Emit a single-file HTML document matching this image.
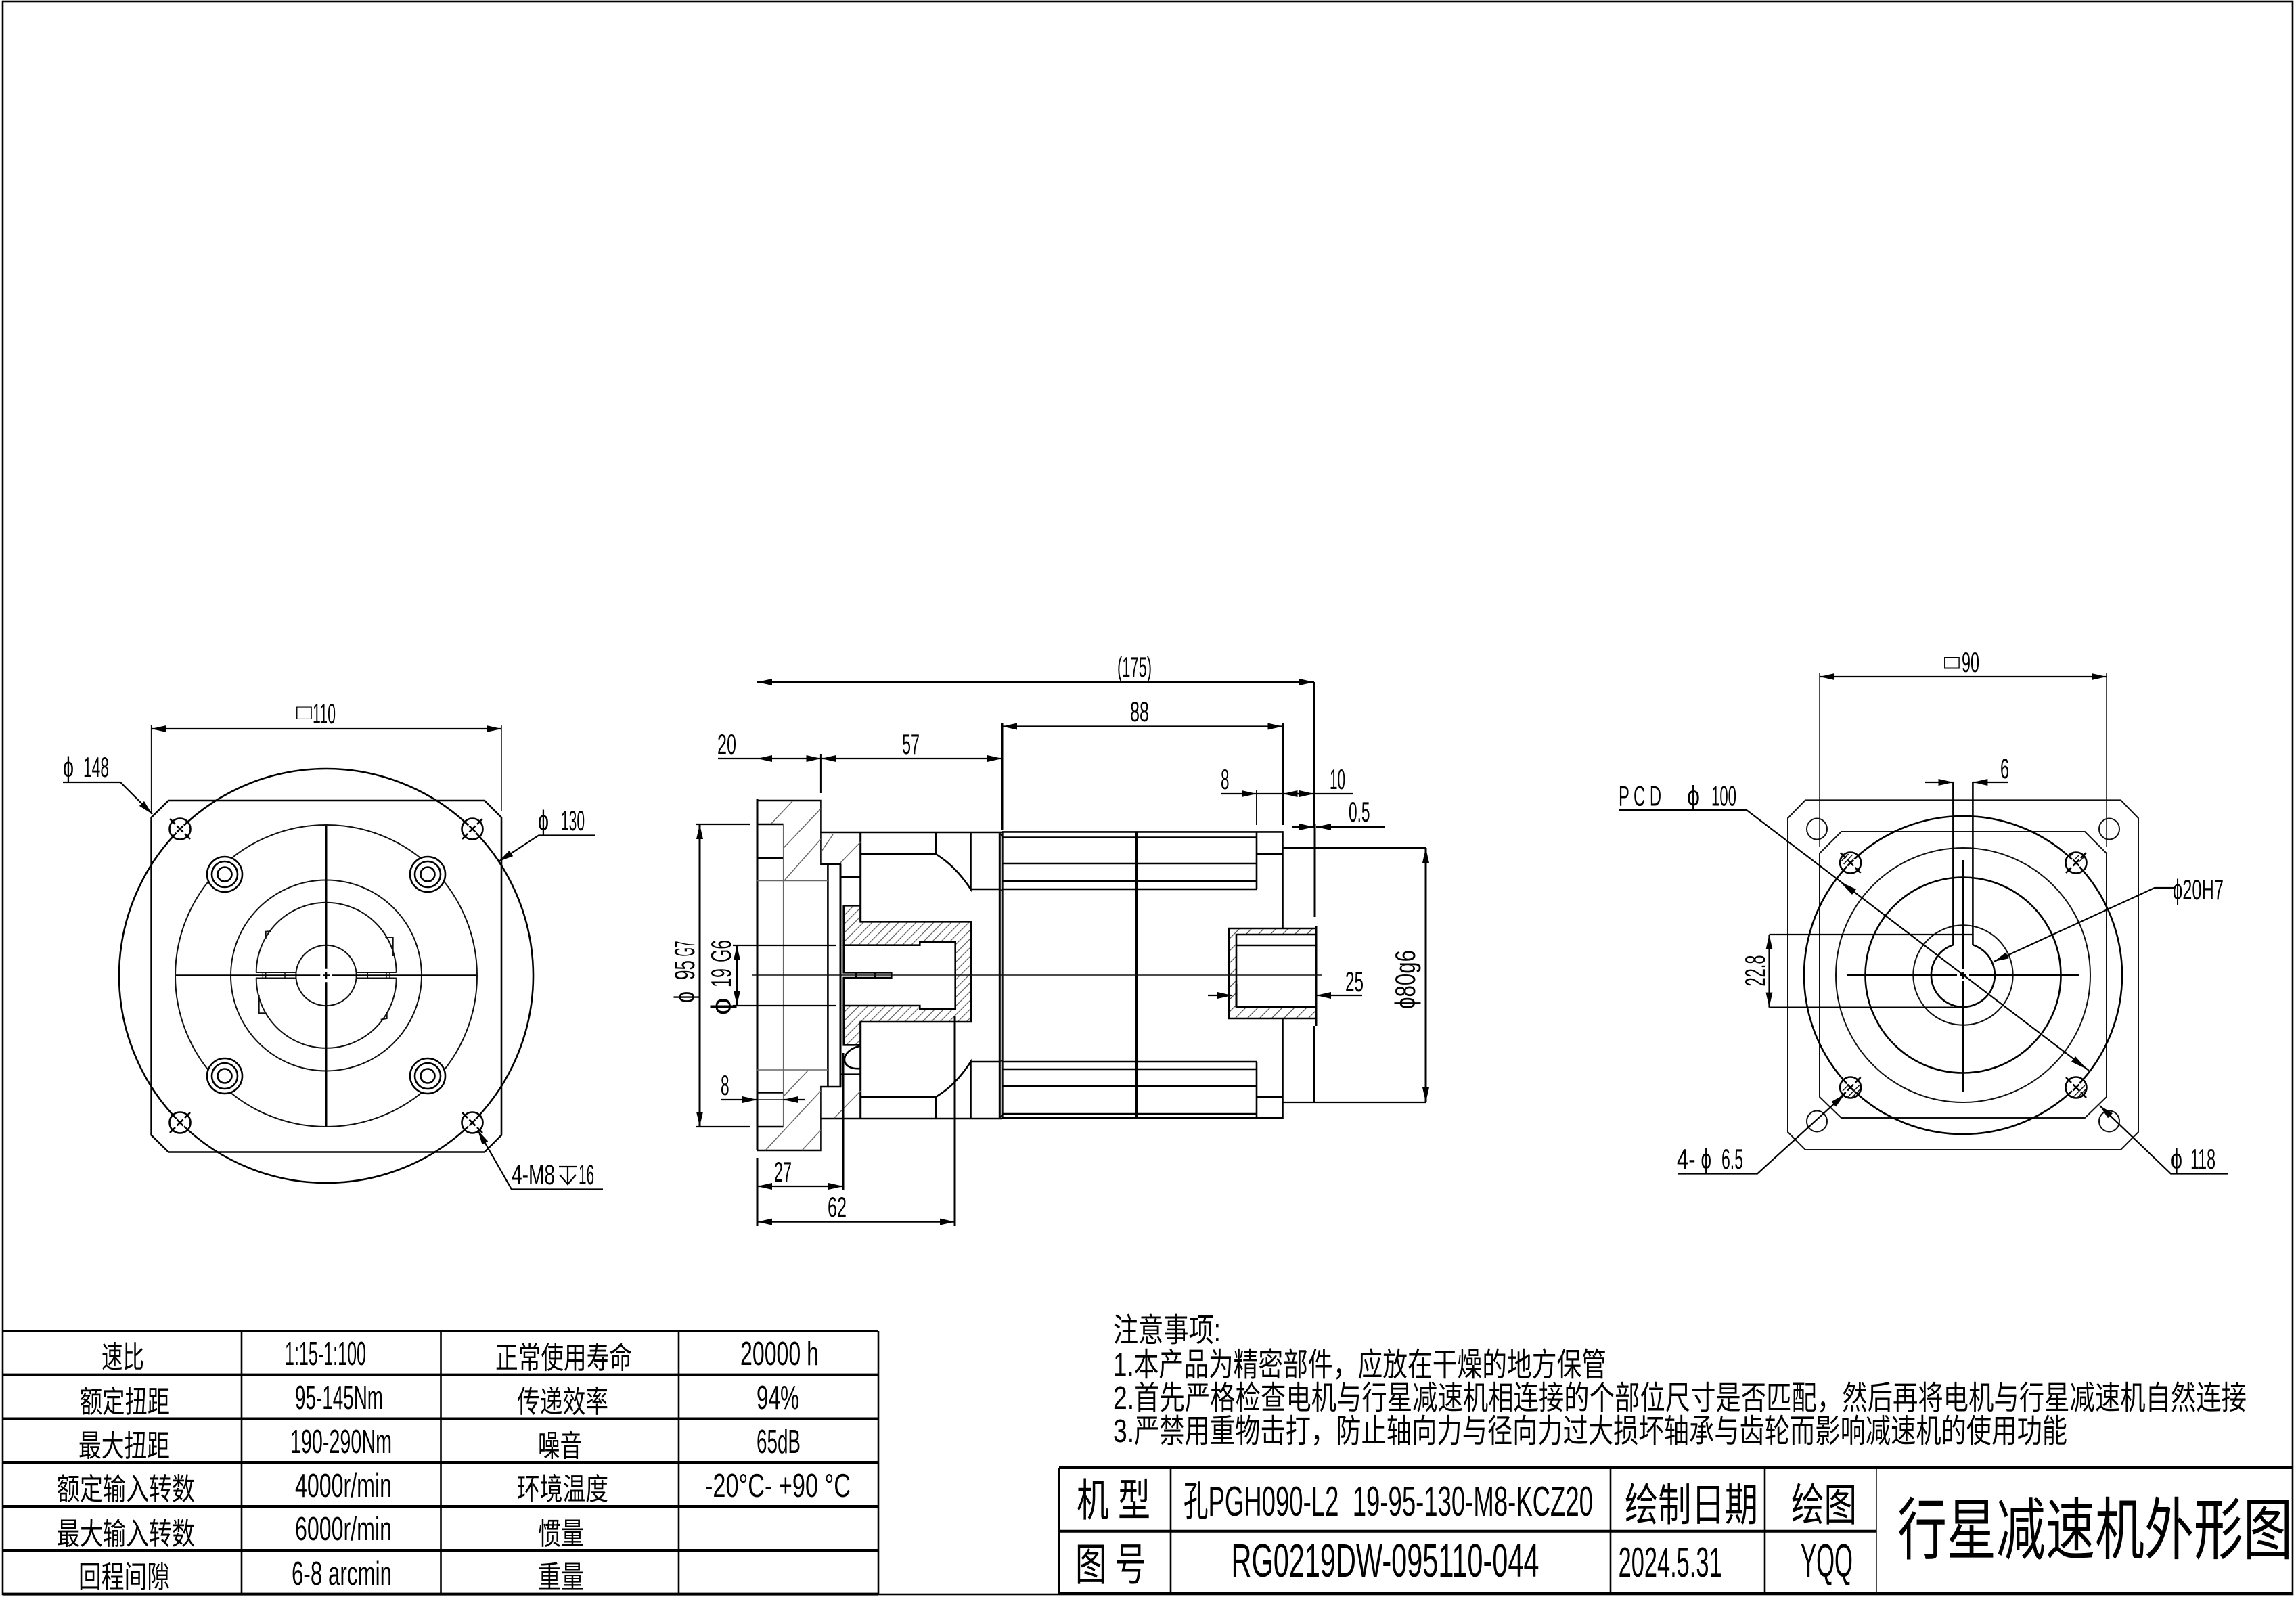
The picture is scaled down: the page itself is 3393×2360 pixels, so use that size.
<!DOCTYPE html>
<html><head><meta charset="utf-8"><style>
html,body{margin:0;padding:0;background:#fff}
svg{display:block}
text{fill:#000;font-family:"Liberation Sans","Noto Sans CJK SC",sans-serif;font-weight:400}
.m{stroke:#000;stroke-width:2.6;fill:none}
.t{stroke:#111;stroke-width:2;fill:none}
.f{stroke:#111;stroke-width:1.5;fill:none}
.g{stroke:#666;stroke-width:1.4;fill:none}
.k{stroke:#000;stroke-width:4;fill:none}
.j{stroke:#000;stroke-width:3;fill:none}
.d{stroke:#000;stroke-width:2.2;fill:none}
.e{stroke:#000;stroke-width:3;fill:none}
.a{marker-end:url(#ar)}
.b{marker-start:url(#ar);marker-end:url(#ar)}
.l{font-size:42px}.c{font-size:45px}.n{font-size:49px}
</style></head><body>
<svg width="3393" height="2360" viewBox="0 0 3393 2360" xmlns="http://www.w3.org/2000/svg">
<defs>
<marker id="ar" viewBox="0 0 22 10" refX="22" refY="5" markerWidth="22" markerHeight="10" markerUnits="userSpaceOnUse" orient="auto-start-reverse"><path d="M0 0L22 5L0 10z" fill="#000"/></marker>
<pattern id="h" patternUnits="userSpaceOnUse" width="13" height="13"><path d="M-1 1L1 -1M0 13L13 0M12 14L14 12" stroke="#666" stroke-width="1.3"/></pattern>
<pattern id="h2" patternUnits="userSpaceOnUse" width="18" height="18"><path d="M-1 1L1 -1M0 18L18 0M17 19L19 17" stroke="#555" stroke-width="1.3"/></pattern>
<g id="hole"><circle r="15.5" class="m"/><circle r="8" fill="#fff"/><path d="M-4.5 -4.5L4.5 4.5M-4.5 4.5L4.5 -4.5" class="m"/><path d="M-15 -15L-7 -7M7 7L15 15" class="m"/></g>
<g id="bolt"><circle r="26" style="fill:#fff" class="m"/><circle r="19" class="m"/><circle r="10.5" class="m"/></g>
</defs>
<rect width="3393" height="2360" fill="#fff"/>
<rect x="4" y="2" width="3384" height="2354" class="m"/>

<!-- LEFT VIEW -->
<path class="m" d="M249 1183H716L741 1208V1677.5L716 1702.5H249L223.6 1677.5V1208Z"/>
<circle cx="482" cy="1442" r="306" class="m"/>
<circle cx="482" cy="1442" r="223" class="t"/>
<circle cx="482" cy="1441.5" r="141" class="t"/>
<path class="t" d="M378.7 1437.3A103.5 103.5 0 0 1 585.7 1437.3M378.7 1445.3A103.5 103.5 0 0 0 585.7 1445.3"/>
<circle cx="482" cy="1441.5" r="44.7" class="t"/>
<path class="f" d="M378.7 1437.3H437.7M527 1437.3H585.7M378.7 1445.3H437.7M527 1445.3H585.7M388.3 1437V1446M392.7 1437V1446M421 1437V1446M543.3 1437V1446M571 1437V1446M576 1437V1446"/>
<path class="t" d="M392.7 1388V1376.7L401 1376M569.3 1385H580.7V1413M382.7 1470V1497.3H393.3M571.7 1495V1505L562.7 1506.7"/>
<path class="j" d="M482 1221V1431.7M482 1451.3V1665"/>
<path class="m" d="M260 1441.5H473.3M490.7 1441.5H704M477 1441.5H487M482 1436.5V1446.5"/>
<use href="#bolt" x="332" y="1292"/><use href="#bolt" x="632" y="1292"/><use href="#bolt" x="332" y="1590"/><use href="#bolt" x="632" y="1590"/>
<use href="#hole" transform="translate(266 1225)"/>
<use href="#hole" transform="translate(698 1225) rotate(90)"/>
<use href="#hole" transform="translate(266 1659) rotate(90)"/>
<use href="#hole" transform="translate(698 1659)"/>
<path class="f" d="M223.6 1072V1203M741 1072V1198"/>
<path class="d b" d="M223.6 1077H741"/>
<text x="438" y="1063" font-size="31" textLength="23" lengthAdjust="spacingAndGlyphs">□</text>
<text class="l" x="462" y="1069" textLength="34" lengthAdjust="spacingAndGlyphs">110</text>
<path class="d a" d="M93 1156H178L225 1203"/>
<text class="l" x="93" y="1148" textLength="16" lengthAdjust="spacingAndGlyphs">ϕ</text>
<text class="l" x="123" y="1148" textLength="38" lengthAdjust="spacingAndGlyphs">148</text>
<path class="d a" d="M880 1234.5H796L737 1273"/>
<text class="l" x="795" y="1227" textLength="16" lengthAdjust="spacingAndGlyphs">ϕ</text>
<text class="l" x="829" y="1227" textLength="35" lengthAdjust="spacingAndGlyphs">130</text>
<path class="d a" d="M891 1757.5H756L706 1670"/>
<text class="l" x="756" y="1750" textLength="64" lengthAdjust="spacingAndGlyphs">4-M8</text>
<path class="d" d="M826 1724H852M839 1724V1750M827 1736L839 1750L851 1736"/>
<text class="l" x="855" y="1750" textLength="23" lengthAdjust="spacingAndGlyphs">16</text>

<!-- MIDDLE VIEW -->
<path d="M1246.7 1338.3H1271.7V1362.3H1435V1510H1271.7V1544.3H1246.7V1486H1359.3V1491H1411.7V1392.3H1359.3V1396.7H1246.7Z" style="fill:url(#h)" class="m"/>
<path class="m" d="M1119 1183H1213.4V1277H1223.4V1606H1213.4V1700H1119"/>
<path class="j" d="M1119 1181V1700"/>
<path class="m" d="M1119 1218H1157.6M1119 1665H1157.6M1119 1268H1157.6M1119 1614.5H1157.6"/>
<path class="g" d="M1157.6 1218V1665M1119 1301.6H1223M1119 1581H1223"/>
<path class="m" d="M1213.4 1230H1481M1213.4 1653H1481M1223.4 1277H1242V1606H1223.4"/>
<path class="j" d="M1242 1277V1606M1271.7 1230V1362.3M1271.7 1510V1653"/>
<path class="m" d="M1242.7 1296H1271.7M1242.7 1587.7H1271.7M1246.7 1396.7V1437.3H1317.3V1445H1246.7V1486M1265.3 1437.3V1445M1293.3 1437.3V1445"/>
<path class="m" d="M1271.7 1262.3H1383.3V1230M1383.3 1262.3Q1412 1280 1434.5 1314V1230M1434.5 1314H1478M1271.7 1620.7H1383.3V1653M1383.3 1620.7Q1412 1604 1434.5 1569V1653M1434.5 1569H1478"/>
<path class="m" d="M1271.7 1545.7C1240 1552 1240 1582 1271.7 1579"/>
<path class="g" d="M1139 1218L1171 1184M1158 1253L1213 1195M1160 1300L1213 1240M1214 1258L1231 1233M1242 1275L1272 1244M1158 1620L1194 1582M1131 1700L1213 1612M1185 1700L1213 1670M1233 1652L1272 1612"/>
<path class="j" d="M1477.3 1230V1653"/>
<path class="t" d="M1481.7 1229.4V1652M1477 1230L1481.7 1236M1477 1653L1481.7 1647M1477 1314L1481.7 1316M1477 1569L1481.7 1567"/>
<path class="m" d="M1481 1229.4H1895.5V1372M1895.5 1505V1652H1481M1481 1237.5H1857M1481 1276H1857M1481 1302H1857M1481 1314H1857M1857 1229.4V1314M1857 1262H1895.5M1481 1569H1857M1481 1580H1857M1481 1605H1857M1481 1646H1857M1857 1569V1652M1857 1621H1895.5"/>
<path class="k" d="M1679 1229V1652"/>
<path d="M1816 1372H1945V1505H1816ZM1827 1381V1488H1945V1381Z" style="fill:url(#h2);fill-rule:evenodd" class="m"/>
<path class="m" d="M1827 1397H1945"/>
<path class="j" d="M1827 1454V1488M1945 1368V1516"/>
<path class="f" d="M1111 1441H1953"/>
<path class="m" d="M1942 1008V1222M1942 1516V1629"/>
<path class="e" d="M1943 1217V1355"/>
<path class="d" d="M1895.5 1253H2107M1895.5 1629H2107"/>
<path class="e b" d="M2107 1253V1629"/>
<text class="l" transform="rotate(-90 2091 1491)" x="2091" y="1491" textLength="87" lengthAdjust="spacingAndGlyphs">ϕ80g6</text>
<path class="d b" d="M1119 1008H1942"/>
<text class="l" x="1651" y="1000" textLength="51" lengthAdjust="spacingAndGlyphs">(175)</text>
<path class="j" d="M1481 1068V1226M1895.5 1068V1219M1213.4 1114V1172"/>
<path class="d b" d="M1481 1073.5H1895.5"/>
<text class="l" x="1670" y="1066" textLength="28" lengthAdjust="spacingAndGlyphs">88</text>
<path class="d" d="M1061 1121H1119"/>
<path class="d b" d="M1119 1121H1213.4"/>
<path class="d b" d="M1213.4 1121H1481"/>
<text class="l" x="1060" y="1114" textLength="28" lengthAdjust="spacingAndGlyphs">20</text>
<text class="l" x="1333" y="1114" textLength="26" lengthAdjust="spacingAndGlyphs">57</text>
<path class="d a" d="M1804 1173H1857"/>
<path class="t" d="M1857 1167V1219"/>
<path class="d" d="M1857 1173H1895.5"/>
<path class="d a" d="M1925 1173H1895.5"/>
<path class="d a" d="M1915 1173H1942"/>
<path class="d" d="M1942 1173H2000"/>
<text class="l" x="1804" y="1166" textLength="12.5" lengthAdjust="spacingAndGlyphs">8</text>
<text class="l" x="1965" y="1166" textLength="23" lengthAdjust="spacingAndGlyphs">10</text>
<path class="d a" d="M1909 1222H1942"/>
<path class="d a" d="M2046 1222H1945"/>
<text class="l" x="1993" y="1214" textLength="31.5" lengthAdjust="spacingAndGlyphs">0.5</text>
<path class="d a" d="M1785 1471H1821"/>
<path class="d a" d="M2013 1471H1945"/>
<text class="l" x="1988" y="1465" textLength="27" lengthAdjust="spacingAndGlyphs">25</text>
<path class="d" d="M1028 1218H1108M1028 1665H1108"/>
<path class="e b" d="M1034 1218V1665"/>
<text class="l" transform="rotate(-90 1026 1482)" x="1026" y="1482" textLength="17" lengthAdjust="spacingAndGlyphs">ϕ</text>
<text class="l" transform="rotate(-90 1026 1448)" x="1026" y="1448" textLength="29" lengthAdjust="spacingAndGlyphs">95</text>
<text class="l" transform="rotate(-90 1026 1413.5)" x="1026" y="1413.5" textLength="23" lengthAdjust="spacingAndGlyphs">G7</text>
<path class="d" d="M1083 1397H1235M1083 1486H1235"/>
<path class="e b" d="M1089 1397V1486"/>
<text class="l" transform="rotate(-90 1080 1500)" x="1080" y="1500" textLength="25.6" lengthAdjust="spacingAndGlyphs">ϕ</text>
<text class="l" transform="rotate(-90 1080 1459)" x="1080" y="1459" textLength="28" lengthAdjust="spacingAndGlyphs">19</text>
<text class="l" transform="rotate(-90 1080 1422)" x="1080" y="1422" textLength="33" lengthAdjust="spacingAndGlyphs">G6</text>
<path class="d a" d="M1066 1625H1119"/>
<path class="d a" d="M1190 1625H1157.6"/>
<path class="f" d="M1119 1625H1157.6"/>
<text class="l" x="1065" y="1618" textLength="12.6" lengthAdjust="spacingAndGlyphs">8</text>
<path class="j" d="M1119 1711V1812M1246 1556V1758M1411 1502V1812"/>
<path class="d b" d="M1119 1753H1246"/>
<path class="d b" d="M1119 1805.6H1411"/>
<text class="l" x="1144" y="1746" textLength="26" lengthAdjust="spacingAndGlyphs">27</text>
<text class="l" x="1223" y="1798" textLength="28" lengthAdjust="spacingAndGlyphs">62</text>

<!-- RIGHT VIEW -->
<path class="t" d="M2668 1182.4H3134L3160 1209V1673L3134 1699H2668L2642 1673V1209Z"/>
<path class="t" d="M2721 1229H3081L3113 1261V1621L3081 1652H2721L2689 1621V1261Z"/>
<circle cx="2901" cy="1441" r="235" class="m"/>
<circle cx="2901" cy="1441" r="188" class="t"/>
<circle cx="2901" cy="1441" r="144.5" class="m"/>
<circle cx="2901" cy="1441" r="73.7" class="t"/>
<path class="m" d="M2886.4 1396.3A47 47 0 1 0 2915.4 1396.3"/>
<path class="m" d="M2886.4 1396.3V1156M2915.4 1396.3V1156"/>
<path class="m" d="M2901 1271V1432M2901 1450V1613M2730 1441H2892M2910 1441H3072M2896 1441H2906M2901 1436V1446"/>
<ellipse cx="2685" cy="1225" rx="15" ry="15.5" class="t"/><ellipse cx="3117" cy="1225" rx="15" ry="15.5" class="t"/><ellipse cx="2685" cy="1657" rx="15" ry="15.5" class="t"/><ellipse cx="3117" cy="1657" rx="15" ry="15.5" class="t"/>
<use href="#hole" transform="translate(2734.6 1275)"/>
<use href="#hole" transform="translate(3068 1275) rotate(90)"/>
<use href="#hole" transform="translate(2734.6 1607) rotate(90)"/>
<use href="#hole" transform="translate(3068 1607)"/>
<path class="f" d="M2721.6 1272L2731.6 1262M2724.6 1277L2737.6 1263M2720.6 1267L2726.6 1261M3057 1267L3064 1261M3066 1270L3073 1263M3072 1274L3079 1267M2729.6 1622L2747.6 1604M2736.6 1622L2749.6 1609M2723 1612L2732 1603M3063 1622L3081 1604M3070 1622L3083 1609M3080 1612L3083 1609"/>
<path class="f" d="M2689 995V1251M3113 995V1251"/>
<path class="d b" d="M2689 1000H3113"/>
<text x="2873" y="987.5" font-size="27.5" textLength="23" lengthAdjust="spacingAndGlyphs">□</text>
<text class="l" x="2899" y="993" textLength="26" lengthAdjust="spacingAndGlyphs">90</text>
<path class="d a" d="M2845 1156H2886.4"/>
<path class="d a" d="M2968 1156H2915.4"/>
<text class="l" x="2956" y="1150" textLength="13" lengthAdjust="spacingAndGlyphs">6</text>
<path class="d" d="M2392 1197H2581L3087 1582"/>
<path d="M2719 1303L2743 1314L2737 1322Z" fill="#000"/>
<path d="M3084 1580L3061 1569L3067 1561Z" fill="#000"/>
<text class="l" x="2392" y="1190.5" textLength="63" lengthAdjust="spacingAndGlyphs">P C D</text>
<text class="l" x="2493" y="1190.5" textLength="19" lengthAdjust="spacingAndGlyphs">ϕ</text>
<text class="l" x="2529" y="1190.5" textLength="37" lengthAdjust="spacingAndGlyphs">100</text>
<path class="d" d="M2614.5 1381H2915M2614.5 1488.6H2901"/>
<path class="d b" d="M2614.5 1381V1488.6"/>
<text class="l" transform="rotate(-90 2608 1457.5)" x="2608" y="1457.5" textLength="46" lengthAdjust="spacingAndGlyphs">22.8</text>
<path class="d a" d="M3213 1312H3184L2946.5 1421"/>
<text class="l" x="3211" y="1329" textLength="75" lengthAdjust="spacingAndGlyphs">ϕ20H7</text>
<path class="d a" d="M2479 1734.5H2597L2726 1617"/>
<text class="l" x="2478" y="1727" textLength="27.5" lengthAdjust="spacingAndGlyphs">4-</text>
<text class="l" x="2513.5" y="1727" textLength="15.5" lengthAdjust="spacingAndGlyphs">ϕ</text>
<text class="l" x="2544" y="1727" textLength="32" lengthAdjust="spacingAndGlyphs">6.5</text>
<path class="d a" d="M3292 1734.5H3208L3102.6 1633.5"/>
<text class="l" x="3208" y="1727" textLength="17" lengthAdjust="spacingAndGlyphs">ϕ</text>
<text class="l" x="3237" y="1727" textLength="37" lengthAdjust="spacingAndGlyphs">118</text>

<!-- LEFT TABLE -->
<path class="k" d="M4 1967H1298M4 2031.6H1298M4 2096.5H1298M4 2161H1298M4 2226H1298M4 2291H1298M4 2355.6H1298"/>
<path class="m" d="M357 1967V2356M651.5 1967V2356M1003 1967V2356M1298 1967V2356"/>
<text class="c" x="150" y="2021" textLength="63" lengthAdjust="spacingAndGlyphs">速比</text>
<text class="c" x="118" y="2087" textLength="133" lengthAdjust="spacingAndGlyphs">额定扭距</text>
<text class="c" x="116" y="2152" textLength="135" lengthAdjust="spacingAndGlyphs">最大扭距</text>
<text class="c" x="84" y="2216" textLength="204" lengthAdjust="spacingAndGlyphs">额定输入转数</text>
<text class="c" x="84" y="2282" textLength="204" lengthAdjust="spacingAndGlyphs">最大输入转数</text>
<text class="c" x="116" y="2346" textLength="135" lengthAdjust="spacingAndGlyphs">回程间隙</text>
<text class="c" x="732" y="2022" textLength="202" lengthAdjust="spacingAndGlyphs">正常使用寿命</text>
<text class="c" x="764" y="2087" textLength="135" lengthAdjust="spacingAndGlyphs">传递效率</text>
<text class="c" x="795" y="2152" textLength="65" lengthAdjust="spacingAndGlyphs">噪音</text>
<text class="c" x="764" y="2216" textLength="135" lengthAdjust="spacingAndGlyphs">环境温度</text>
<text class="c" x="795" y="2282" textLength="68" lengthAdjust="spacingAndGlyphs">惯量</text>
<text class="c" x="795" y="2346" textLength="68" lengthAdjust="spacingAndGlyphs">重量</text>
<text class="n" x="421" y="2017" textLength="120" lengthAdjust="spacingAndGlyphs">1:15-1:100</text>
<text class="n" x="436" y="2082" textLength="130" lengthAdjust="spacingAndGlyphs">95-145Nm</text>
<text class="n" x="429" y="2147" textLength="150" lengthAdjust="spacingAndGlyphs">190-290Nm</text>
<text class="n" x="436" y="2212" textLength="143" lengthAdjust="spacingAndGlyphs">4000r/min</text>
<text class="n" x="436" y="2276" textLength="143" lengthAdjust="spacingAndGlyphs">6000r/min</text>
<text class="n" x="431" y="2342" textLength="148" lengthAdjust="spacingAndGlyphs">6-8 arcmin</text>
<text class="n" x="1094" y="2017" textLength="116" lengthAdjust="spacingAndGlyphs">20000 h</text>
<text class="n" x="1118" y="2082" textLength="63" lengthAdjust="spacingAndGlyphs">94%</text>
<text class="n" x="1118" y="2147" textLength="65" lengthAdjust="spacingAndGlyphs">65dB</text>
<text class="n" x="1042" y="2212" textLength="215" lengthAdjust="spacingAndGlyphs">-20°C- +90 °C</text>

<!-- NOTES -->
<text x="1645" y="1982" font-size="48" textLength="159" lengthAdjust="spacingAndGlyphs">注意事项:</text>
<text x="1645" y="2033" font-size="48" textLength="729" lengthAdjust="spacingAndGlyphs">1.本产品为精密部件，应放在干燥的地方保管</text>
<text x="1645" y="2082" font-size="48" textLength="1675" lengthAdjust="spacingAndGlyphs">2.首先严格检查电机与行星减速机相连接的个部位尺寸是否匹配，然后再将电机与行星减速机自然连接</text>
<text x="1645" y="2131" font-size="48" textLength="1410" lengthAdjust="spacingAndGlyphs">3.严禁用重物击打，防止轴向力与径向力过大损坏轴承与齿轮而影响减速机的使用功能</text>

<!-- TITLE BLOCK -->
<path class="k" d="M1565 2169H3388M1565 2262.7H2773M1565 2355H3388"/>
<path class="m" d="M1565 2169V2355M1730 2169V2355M2380 2169V2355M2608 2169V2355"/>
<path class="f" d="M2773 2169V2355"/>
<text x="1591" y="2240" font-size="66" textLength="109" lengthAdjust="spacingAndGlyphs">机 型</text>
<text x="1749" y="2240" font-size="62" textLength="605" lengthAdjust="spacingAndGlyphs">孔PGH090-L2&#160;&#160;19-95-130-M8-KCZ20</text>
<text x="2401" y="2247" font-size="66" textLength="197" lengthAdjust="spacingAndGlyphs">绘制日期</text>
<text x="2647" y="2247" font-size="66" textLength="97" lengthAdjust="spacingAndGlyphs">绘图</text>
<text x="1589" y="2335" font-size="66" textLength="105" lengthAdjust="spacingAndGlyphs">图 号</text>
<text x="1819.5" y="2330" font-size="70" textLength="455" lengthAdjust="spacingAndGlyphs">RG0219DW-095110-044</text>
<text x="2391.6" y="2330" font-size="62" textLength="153" lengthAdjust="spacingAndGlyphs">2024.5.31</text>
<text x="2661" y="2330" font-size="70" textLength="77" lengthAdjust="spacingAndGlyphs">YQQ</text>
<text x="2804" y="2296" font-size="100" textLength="584" lengthAdjust="spacingAndGlyphs">行星减速机外形图</text>
</svg>
</body></html>
